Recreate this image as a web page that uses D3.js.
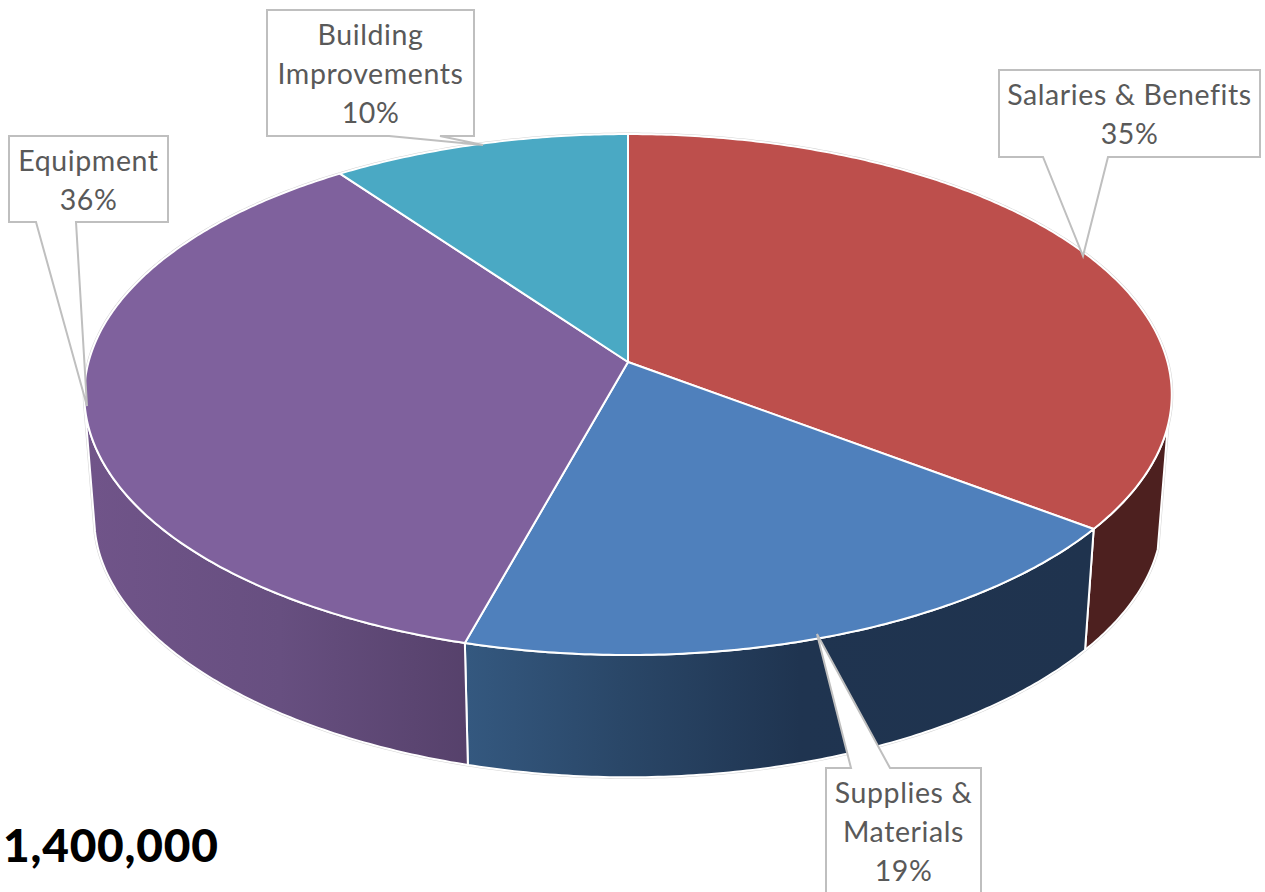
<!DOCTYPE html>
<html>
<head>
<meta charset="utf-8">
<script src="https://cdn.jsdelivr.net/npm/d3@7"></script>
<style>
  html, body { margin: 0; background: #fff; overflow: hidden; }
  svg { display: block; }
</style>
</head>
<body>
<div id="chart"></div>
<script>
// values (slices add up to the total printed at bottom left)
const categories = ["Salaries & Benefits", "Supplies & Materials", "Equipment", "Building Improvements"]
const amounts = [494000, 266000, 500000, 140000]

const width = 1265, height = 892

const topColors = ["#bd4f4c", "#4f80bc", "#7f619d", "#4aa9c4"]

// label boxes, one per slice: box corners, then the pointer (start, tip, end on the box edge)
const boxes = [
  {x0: 999, y0: 70, x1: 1260, y1: 157, edge: "bottom", p: [[1043, 157], [1083, 256], [1108, 157]], lines: ["Salaries & Benefits"], base: 105},
  {x0: 826, y0: 768, x1: 981, y1: 900, edge: "top", p: [[851, 768], [817, 634], [890, 768]], lines: ["Supplies &", "Materials"], base: 803},
  {x0: 9, y0: 136, x1: 168, y1: 222, edge: "bottom", p: [[36, 222], [87, 406], [76, 222]], lines: ["Equipment"], base: 171},
  {x0: 267, y0: 10, x1: 474, y1: 136, edge: "bottom", p: [[389, 136], [483, 145], [440, 136]], lines: ["Building", "Improvements"], base: 45}
]

// perspective of the flat disc, k shrinks the far side
const topRim = {cx: 628, cy: 362, rx: 539.5, ry: 256.4, kx: -0.1248, ky: -0.1248}
const lowRim = {cx: 628, cy: 488, rx: 529.5, ry: 243, kx: -0.1248, ky: -0.16}
const wallFrom = 104 * Math.PI / 180, wallTo = 260 * Math.PI / 180

function project(rim, a) {
  const u = Math.sin(a), v = -Math.cos(a)
  return [rim.cx + rim.rx * u / (1 + rim.kx * v), rim.cy + rim.ry * v / (1 + rim.ky * v)]
}

function rimPoints(rim, a0, a1) {
  const n = Math.max(2, Math.ceil((a1 - a0) / 0.01))
  return d3.range(n + 1).map(i => project(rim, a0 + (a1 - a0) * i / n))
}

const line = d3.line()
const slices = d3.pie().sort(null).value(d => d)(amounts)
const total = d3.sum(amounts)

const svg = d3.select("#chart").append("svg")
  .attr("width", width)
  .attr("height", height)

// side wall shading
const defs = svg.append("defs")
const wallGradients = [
  null,
  [[468, "#34587f"], [620, "#2a4768"], [800, "#1f3450"], [1090, "#1f334e"]],
  [[90, "#705489"], [280, "#674f80"], [468, "#56416b"]],
  null
]
const wallFill = ["#4d201f", "url(#wall1)", "url(#wall2)", "none"]
wallGradients.forEach((stops, i) => {
  if (!stops) return
  const x = d3.scaleLinear().domain([stops[0][0], stops[stops.length - 1][0]]).range([0, 1])
  defs.append("linearGradient")
    .attr("id", "wall" + i)
    .attr("gradientUnits", "userSpaceOnUse")
    .attr("x1", stops[0][0]).attr("x2", stops[stops.length - 1][0])
    .attr("y1", 0).attr("y2", 0)
    .selectAll("stop")
    .data(stops)
    .join("stop")
    .attr("offset", d => x(d[0]))
    .attr("stop-color", d => d[1])
})

// faint grey outline round the whole shape
const outline = rimPoints(lowRim, wallFrom, wallTo)
  .concat(rimPoints(topRim, wallTo, wallFrom + Math.PI * 2))
svg.append("path")
  .attr("d", line(outline) + "Z")
  .attr("fill", "#fff")
  .attr("stroke", "#d4d4d4")
  .attr("stroke-width", 3)

// walls, only the part facing us
svg.append("g")
  .selectAll("path")
  .data(slices.filter(d => d.endAngle > wallFrom && d.startAngle < wallTo))
  .join("path")
  .attr("d", d => {
    const a0 = Math.max(d.startAngle, wallFrom), a1 = Math.min(d.endAngle, wallTo)
    return line(rimPoints(topRim, a0, a1).concat(rimPoints(lowRim, a0, a1).reverse())) + "Z"
  })
  .attr("fill", d => wallFill[d.index])
  .attr("stroke", "#fff")
  .attr("stroke-width", 2)
  .attr("stroke-linejoin", "round")

// top faces
svg.append("g")
  .selectAll("path")
  .data(slices)
  .join("path")
  .attr("d", d => line([[topRim.cx, topRim.cy]].concat(rimPoints(topRim, d.startAngle, d.endAngle))) + "Z")
  .attr("fill", d => topColors[d.index])
  .attr("stroke", "#fff")
  .attr("stroke-width", 2)
  .attr("stroke-linejoin", "round")

// label boxes with their pointers
const labels = svg.append("g")
  .selectAll("g")
  .data(boxes)
  .join("g")

labels.append("path")
  .attr("d", b => {
    const pts = b.edge === "bottom"
      ? [[b.x0, b.y0], [b.x1, b.y0], [b.x1, b.y1], b.p[2], b.p[1], b.p[0], [b.x0, b.y1]]
      : [[b.x0, b.y0], b.p[0], b.p[1], b.p[2], [b.x1, b.y0], [b.x1, b.y1], [b.x0, b.y1]]
    return line(pts) + "Z"
  })
  .attr("fill", "#fff")
  .attr("stroke", "#bfbfbf")
  .attr("stroke-width", 2)

labels.append("text")
  .attr("font-family", "Lato, 'Open Sans', sans-serif")
  .attr("font-size", 28.5)
  .attr("letter-spacing", 0.6)
  .attr("fill", "#595959")
  .attr("text-anchor", "middle")
  .selectAll("tspan")
  .data((b, i) => b.lines.concat(d3.format(".0%")(amounts[i] / total))
    .map((t, j) => ({t, x: (b.x0 + b.x1) / 2, y: b.base + j * 39})))
  .join("tspan")
  .attr("x", d => d.x)
  .attr("y", d => d.y)
  .text(d => d.t)

svg.append("text")
  .attr("x", 3)
  .attr("y", 862)
  .attr("font-family", "Lato, 'Open Sans', sans-serif")
  .attr("font-weight", 900)
  .attr("font-size", 46)
  .attr("letter-spacing", 0.8)
  .attr("fill", "#000")
  .text(d3.format(",")(total))
</script>
</body>
</html>
